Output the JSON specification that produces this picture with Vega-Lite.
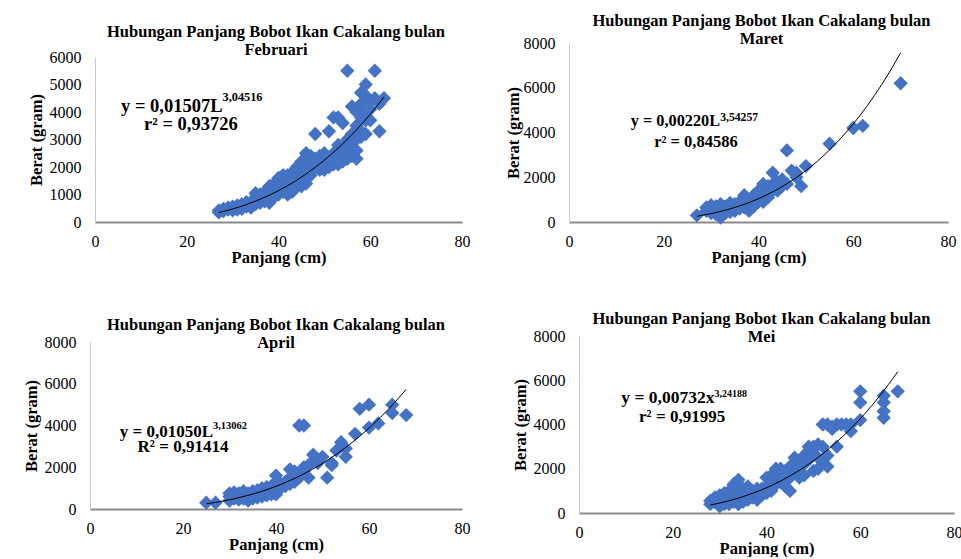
{
  "$schema": "https://vega.github.io/schema/vega-lite/v6.json",
  "background": "white",
  "padding": {"left": 23, "top": 12, "right": 0, "bottom": 0},
  "columns": 2,
  "spacing": {"column": 35, "row": 44},
  "config": {
    "font": "Liberation Serif",
    "view": {"stroke": null},
    "axis": {"grid": false, "ticks": false, "tickSize": 0, "labelFont": "Liberation Serif", "labelFontSize": 16, "labelColor": "#000000", "titleFont": "Liberation Serif", "titleFontSize": 16.5, "titleFontWeight": "bold", "titleColor": "#000000", "labelFlush": false, "format": "d"},
    "axisX": {"domainWidth": 2, "domainColor": "#8c8c8c", "labelPadding": 11, "titlePadding": 0},
    "axisY": {"domainWidth": 1, "domainColor": "#c8c8c8", "labelPadding": 14, "titlePadding": 5},
    "title": {"font": "Liberation Serif", "fontSize": 16.5, "fontWeight": "bold", "color": "#000000", "lineHeight": 18, "frame": "group", "anchor": "middle"},
    "point": {"shape": "diamond", "filled": true, "size": 205, "color": "#4472C4", "opacity": 1},
    "line": {"color": "#000000", "strokeWidth": 1},
    "text": {"font": "Liberation Serif", "fontWeight": "bold", "color": "#000000", "baseline": "alphabetic"}
  },
  "datasets": {
    "feb": [
      {"panjang":27,"berat":350},{"panjang":27,"berat":420},{"panjang":28,"berat":400},{"panjang":28,"berat":480},{"panjang":29,"berat":450},{"panjang":29,"berat":520},{"panjang":30,"berat":480},{"panjang":30,"berat":560},{"panjang":30,"berat":420},{"panjang":31,"berat":500},{"panjang":31,"berat":600},{"panjang":31,"berat":450},{"panjang":32,"berat":550},{"panjang":32,"berat":650},{"panjang":32,"berat":480},{"panjang":33,"berat":560},{"panjang":33,"berat":650},{"panjang":33,"berat":720},{"panjang":34,"berat":600},{"panjang":34,"berat":700},{"panjang":34,"berat":520},{"panjang":35,"berat":650},{"panjang":35,"berat":780},{"panjang":35,"berat":1050},{"panjang":35,"berat":900},{"panjang":36,"berat":700},{"panjang":36,"berat":850},{"panjang":36,"berat":1000},{"panjang":37,"berat":750},{"panjang":37,"berat":900},{"panjang":37,"berat":1000},{"panjang":37,"berat":1100},{"panjang":38,"berat":800},{"panjang":38,"berat":950},{"panjang":38,"berat":1300},{"panjang":38,"berat":700},{"panjang":39,"berat":900},{"panjang":39,"berat":1100},{"panjang":39,"berat":1250},{"panjang":39,"berat":1400},{"panjang":40,"berat":1000},{"panjang":40,"berat":1200},{"panjang":40,"berat":1600},{"panjang":40,"berat":1350},{"panjang":41,"berat":1100},{"panjang":41,"berat":1300},{"panjang":41,"berat":1500},{"panjang":41,"berat":1700},{"panjang":42,"berat":1000},{"panjang":42,"berat":1200},{"panjang":42,"berat":1400},{"panjang":42,"berat":1700},{"panjang":43,"berat":1100},{"panjang":43,"berat":1300},{"panjang":43,"berat":1500},{"panjang":43,"berat":1800},{"panjang":44,"berat":1300},{"panjang":44,"berat":1500},{"panjang":44,"berat":1700},{"panjang":44,"berat":2000},{"panjang":45,"berat":1300},{"panjang":45,"berat":1600},{"panjang":45,"berat":1900},{"panjang":45,"berat":2200},{"panjang":46,"berat":1800},{"panjang":46,"berat":2100},{"panjang":46,"berat":2500},{"panjang":46,"berat":1400},{"panjang":47,"berat":1700},{"panjang":47,"berat":1900},{"panjang":47,"berat":2200},{"panjang":47,"berat":2400},{"panjang":48,"berat":2000},{"panjang":48,"berat":2300},{"panjang":48,"berat":3200},{"panjang":49,"berat":1900},{"panjang":49,"berat":2100},{"panjang":49,"berat":2400},{"panjang":50,"berat":1900},{"panjang":50,"berat":2200},{"panjang":50,"berat":2500},{"panjang":51,"berat":2000},{"panjang":51,"berat":2300},{"panjang":51,"berat":3300},{"panjang":52,"berat":2500},{"panjang":52,"berat":3800},{"panjang":52,"berat":2100},{"panjang":53,"berat":2100},{"panjang":53,"berat":2400},{"panjang":53,"berat":3800},{"panjang":53,"berat":2800},{"panjang":54,"berat":3600},{"panjang":54,"berat":2700},{"panjang":54,"berat":2500},{"panjang":54,"berat":2200},{"panjang":55,"berat":2300},{"panjang":55,"berat":2500},{"panjang":55,"berat":3000},{"panjang":55,"berat":5500},{"panjang":56,"berat":2700},{"panjang":56,"berat":2900},{"panjang":56,"berat":3200},{"panjang":56,"berat":4200},{"panjang":56,"berat":2400},{"panjang":57,"berat":2300},{"panjang":57,"berat":2600},{"panjang":57,"berat":3000},{"panjang":57,"berat":3500},{"panjang":57,"berat":4000},{"panjang":58,"berat":3100},{"panjang":58,"berat":3300},{"panjang":58,"berat":3800},{"panjang":58,"berat":4300},{"panjang":58,"berat":4700},{"panjang":59,"berat":3200},{"panjang":59,"berat":3700},{"panjang":59,"berat":4000},{"panjang":59,"berat":4600},{"panjang":59,"berat":5000},{"panjang":60,"berat":3700},{"panjang":60,"berat":4100},{"panjang":60,"berat":4400},{"panjang":61,"berat":4500},{"panjang":61,"berat":5500},{"panjang":62,"berat":3300},{"panjang":62,"berat":4300},{"panjang":63,"berat":4500}
    ],
    "feb_fit": [
      {"panjang":27,"berat":344},{"panjang":30,"berat":474},{"panjang":33,"berat":634},{"panjang":36,"berat":827},{"panjang":39,"berat":1055},{"panjang":42,"berat":1322},{"panjang":45,"berat":1631},{"panjang":48,"berat":1986},{"panjang":51,"berat":2389},{"panjang":54,"berat":2843},{"panjang":57,"berat":3352},{"panjang":60,"berat":3919},{"panjang":63,"berat":4547}
    ],
    "feb_lbl": [
      {"panjang":27.8,"berat":4000,"teks":"y = 0,01507L","jenis":"main"},
      {"panjang":27.8,"berat":4400,"teks":"3,04516","jenis":"sup"},
      {"panjang":20.9,"berat":3345,"teks":"r² = 0,93726","jenis":"r2"}
    ],
    "mar": [
      {"panjang":27,"berat":300},{"panjang":29,"berat":500},{"panjang":29,"berat":650},{"panjang":30,"berat":400},{"panjang":30,"berat":600},{"panjang":30,"berat":750},{"panjang":31,"berat":350},{"panjang":31,"berat":500},{"panjang":31,"berat":700},{"panjang":32,"berat":200},{"panjang":32,"berat":450},{"panjang":32,"berat":600},{"panjang":32,"berat":800},{"panjang":33,"berat":400},{"panjang":33,"berat":550},{"panjang":33,"berat":700},{"panjang":34,"berat":450},{"panjang":34,"berat":600},{"panjang":34,"berat":850},{"panjang":35,"berat":500},{"panjang":35,"berat":650},{"panjang":35,"berat":800},{"panjang":36,"berat":600},{"panjang":36,"berat":750},{"panjang":36,"berat":900},{"panjang":37,"berat":650},{"panjang":37,"berat":850},{"panjang":37,"berat":1200},{"panjang":38,"berat":500},{"panjang":38,"berat":800},{"panjang":38,"berat":1000},{"panjang":39,"berat":700},{"panjang":39,"berat":900},{"panjang":39,"berat":1200},{"panjang":40,"berat":900},{"panjang":40,"berat":1100},{"panjang":40,"berat":1400},{"panjang":41,"berat":900},{"panjang":41,"berat":1200},{"panjang":41,"berat":1500},{"panjang":41,"berat":1700},{"panjang":42,"berat":1100},{"panjang":42,"berat":1300},{"panjang":42,"berat":1600},{"panjang":43,"berat":1400},{"panjang":43,"berat":1700},{"panjang":43,"berat":2200},{"panjang":44,"berat":1500},{"panjang":44,"berat":1800},{"panjang":44,"berat":1400},{"panjang":45,"berat":1600},{"panjang":45,"berat":1900},{"panjang":46,"berat":3200},{"panjang":46,"berat":1700},{"panjang":47,"berat":2300},{"panjang":48,"berat":2200},{"panjang":48,"berat":2000},{"panjang":49,"berat":1600},{"panjang":50,"berat":2500},{"panjang":55,"berat":3500},{"panjang":60,"berat":4200},{"panjang":62,"berat":4300},{"panjang":70,"berat":6200}
    ],
    "mar_fit": [
      {"panjang":27,"berat":259},{"panjang":30,"berat":376},{"panjang":33,"berat":527},{"panjang":36,"berat":717},{"panjang":39,"berat":952},{"panjang":42,"berat":1239},{"panjang":45,"berat":1581},{"panjang":48,"berat":1988},{"panjang":51,"berat":2465},{"panjang":54,"berat":3017},{"panjang":57,"berat":3656},{"panjang":60,"berat":4383},{"panjang":63,"berat":5209},{"panjang":66,"berat":6141},{"panjang":68,"berat":6824},{"panjang":70,"berat":7565}
    ],
    "mar_lbl": [
      {"panjang":31.9,"berat":4290,"teks":"y = 0,00220L","jenis":"main"},
      {"panjang":31.9,"berat":4514,"teks":"3,54257","jenis":"sup"},
      {"panjang":26.8,"berat":3352,"teks":"r² = 0,84586","jenis":"r2"}
    ],
    "apr": [
      {"panjang":25,"berat":300},{"panjang":27,"berat":300},{"panjang":30,"berat":400},{"panjang":30,"berat":600},{"panjang":30,"berat":750},{"panjang":31,"berat":500},{"panjang":31,"berat":650},{"panjang":31,"berat":800},{"panjang":32,"berat":450},{"panjang":32,"berat":600},{"panjang":32,"berat":750},{"panjang":33,"berat":500},{"panjang":33,"berat":650},{"panjang":33,"berat":850},{"panjang":34,"berat":400},{"panjang":34,"berat":600},{"panjang":34,"berat":750},{"panjang":35,"berat":500},{"panjang":35,"berat":700},{"panjang":35,"berat":850},{"panjang":36,"berat":550},{"panjang":36,"berat":750},{"panjang":36,"berat":900},{"panjang":37,"berat":600},{"panjang":37,"berat":800},{"panjang":37,"berat":1000},{"panjang":38,"berat":650},{"panjang":38,"berat":850},{"panjang":38,"berat":1050},{"panjang":39,"berat":700},{"panjang":39,"berat":900},{"panjang":39,"berat":1100},{"panjang":40,"berat":700},{"panjang":40,"berat":1000},{"panjang":40,"berat":1300},{"panjang":40,"berat":1600},{"panjang":41,"berat":1000},{"panjang":41,"berat":1200},{"panjang":42,"berat":1100},{"panjang":42,"berat":1300},{"panjang":43,"berat":1200},{"panjang":43,"berat":1500},{"panjang":43,"berat":1900},{"panjang":44,"berat":1300},{"panjang":44,"berat":1700},{"panjang":44,"berat":1800},{"panjang":45,"berat":1500},{"panjang":45,"berat":4000},{"panjang":46,"berat":4000},{"panjang":46,"berat":1800},{"panjang":46,"berat":2000},{"panjang":47,"berat":1500},{"panjang":47,"berat":2100},{"panjang":48,"berat":2300},{"panjang":48,"berat":2600},{"panjang":49,"berat":2200},{"panjang":50,"berat":2500},{"panjang":51,"berat":1500},{"panjang":52,"berat":2100},{"panjang":52,"berat":2200},{"panjang":53,"berat":2800},{"panjang":54,"berat":3000},{"panjang":54,"berat":3200},{"panjang":55,"berat":2500},{"panjang":55,"berat":2900},{"panjang":57,"berat":3600},{"panjang":58,"berat":4800},{"panjang":60,"berat":3900},{"panjang":60,"berat":5000},{"panjang":62,"berat":4100},{"panjang":65,"berat":4600},{"panjang":65,"berat":5000},{"panjang":68,"berat":4500}
    ],
    "apr_fit": [
      {"panjang":25,"berat":250},{"panjang":28,"berat":356},{"panjang":31,"berat":490},{"panjang":34,"berat":654},{"panjang":37,"berat":852},{"panjang":40,"berat":1087},{"panjang":43,"berat":1364},{"panjang":46,"berat":1685},{"panjang":49,"berat":2053},{"panjang":52,"berat":2474},{"panjang":55,"berat":2948},{"panjang":58,"berat":3482},{"panjang":61,"berat":4080},{"panjang":64,"berat":4740},{"panjang":68,"berat":5731}
    ],
    "apr_lbl": [
      {"panjang":26.45,"berat":3464,"teks":"y = 0,01050L","jenis":"main"},
      {"panjang":26.45,"berat":3832,"teks":"3,13062","jenis":"sup"},
      {"panjang":20,"berat":2745,"teks":"R² = 0,91414","jenis":"r2"}
    ],
    "mei": [
      {"panjang":28,"berat":400},{"panjang":28,"berat":550},{"panjang":29,"berat":500},{"panjang":29,"berat":700},{"panjang":30,"berat":300},{"panjang":30,"berat":500},{"panjang":30,"berat":800},{"panjang":31,"berat":400},{"panjang":31,"berat":600},{"panjang":31,"berat":900},{"panjang":32,"berat":400},{"panjang":32,"berat":700},{"panjang":32,"berat":1000},{"panjang":33,"berat":500},{"panjang":33,"berat":800},{"panjang":33,"berat":1300},{"panjang":34,"berat":400},{"panjang":34,"berat":700},{"panjang":34,"berat":1000},{"panjang":34,"berat":1500},{"panjang":35,"berat":500},{"panjang":35,"berat":800},{"panjang":35,"berat":1100},{"panjang":36,"berat":600},{"panjang":36,"berat":900},{"panjang":36,"berat":1200},{"panjang":37,"berat":700},{"panjang":37,"berat":1000},{"panjang":38,"berat":600},{"panjang":38,"berat":900},{"panjang":38,"berat":1100},{"panjang":39,"berat":800},{"panjang":39,"berat":1100},{"panjang":40,"berat":900},{"panjang":40,"berat":1200},{"panjang":40,"berat":1600},{"panjang":41,"berat":1000},{"panjang":41,"berat":1400},{"panjang":41,"berat":1700},{"panjang":42,"berat":1300},{"panjang":42,"berat":1700},{"panjang":42,"berat":2000},{"panjang":43,"berat":1400},{"panjang":43,"berat":1800},{"panjang":43,"berat":2000},{"panjang":44,"berat":1200},{"panjang":44,"berat":1500},{"panjang":44,"berat":1900},{"panjang":45,"berat":1000},{"panjang":45,"berat":1600},{"panjang":45,"berat":2100},{"panjang":46,"berat":1800},{"panjang":46,"berat":2200},{"panjang":46,"berat":2500},{"panjang":47,"berat":1600},{"panjang":47,"berat":1900},{"panjang":47,"berat":2300},{"panjang":48,"berat":1700},{"panjang":48,"berat":2200},{"panjang":48,"berat":2600},{"panjang":49,"berat":2400},{"panjang":49,"berat":2800},{"panjang":49,"berat":3000},{"panjang":50,"berat":1900},{"panjang":50,"berat":2700},{"panjang":50,"berat":3000},{"panjang":51,"berat":2000},{"panjang":51,"berat":2500},{"panjang":51,"berat":3100},{"panjang":52,"berat":2400},{"panjang":52,"berat":3000},{"panjang":52,"berat":4000},{"panjang":53,"berat":2100},{"panjang":53,"berat":2600},{"panjang":53,"berat":4000},{"panjang":54,"berat":3800},{"panjang":54,"berat":3900},{"panjang":55,"berat":3000},{"panjang":55,"berat":4000},{"panjang":56,"berat":4000},{"panjang":57,"berat":4000},{"panjang":58,"berat":3700},{"panjang":58,"berat":4000},{"panjang":60,"berat":4200},{"panjang":60,"berat":5000},{"panjang":60,"berat":5500},{"panjang":65,"berat":4300},{"panjang":65,"berat":4600},{"panjang":65,"berat":5000},{"panjang":65,"berat":5300},{"panjang":68,"berat":5500}
    ],
    "mei_fit": [
      {"panjang":28,"berat":360},{"panjang":31,"berat":500},{"panjang":34,"berat":675},{"panjang":37,"berat":888},{"panjang":40,"berat":1143},{"panjang":43,"berat":1445},{"panjang":46,"berat":1799},{"panjang":49,"berat":2208},{"panjang":52,"berat":2677},{"panjang":55,"berat":3212},{"panjang":58,"berat":3817},{"panjang":61,"berat":4495},{"panjang":64,"berat":5249},{"panjang":68,"berat":6387}
    ],
    "mei_lbl": [
      {"panjang":28.9,"berat":4958,"teks":"y = 0,00732x","jenis":"main"},
      {"panjang":28.9,"berat":5230,"teks":"3,24188","jenis":"sup"},
      {"panjang":22,"berat":4127,"teks":"r² = 0,91995","jenis":"r2"}
    ]
  },
  "concat": [
    {
      "width": 372, "height": 179,
      "title": {"text": ["Hubungan Panjang Bobot Ikan Cakalang bulan", "Februari"], "offset": -15},
      "encoding": {
        "x": {"field": "panjang", "type": "quantitative", "scale": {"domain": [0, 80], "range": [5, 372], "nice": false}, "axis": {"values": [0, 20, 40, 60, 80], "title": "Panjang (cm)"}},
        "y": {"field": "berat", "type": "quantitative", "scale": {"domain": [0, 6000], "range": [179, 14], "nice": false}, "axis": {"values": [0, 1000, 2000, 3000, 4000, 5000, 6000], "title": "Berat (gram)", "offset": -5}}
      },
      "layer": [
        {"data": {"name": "feb"}, "mark": {"type": "point"}},
        {"data": {"name": "feb_fit"}, "mark": {"type": "line", "interpolate": "monotone"}},
        {"data": {"name": "feb_lbl"}, "transform": [{"filter": "datum.jenis == 'main'"}], "mark": {"type": "text", "align": "right", "fontSize": 18.5}, "encoding": {"text": {"field": "teks"}}},
        {"data": {"name": "feb_lbl"}, "transform": [{"filter": "datum.jenis == 'sup'"}], "mark": {"type": "text", "align": "left", "fontSize": 12.3}, "encoding": {"text": {"field": "teks"}}},
        {"data": {"name": "feb_lbl"}, "transform": [{"filter": "datum.jenis == 'r2'"}], "mark": {"type": "text", "align": "center", "fontSize": 18.5}, "encoding": {"text": {"field": "teks"}}}
      ]
    },
    {
      "width": 385, "height": 179,
      "title": {"text": ["Hubungan Panjang Bobot Ikan Cakalang bulan", "Maret"], "offset": -12},
      "encoding": {
        "x": {"field": "panjang", "type": "quantitative", "scale": {"domain": [0, 80], "range": [0, 379], "nice": false}, "axis": {"values": [0, 20, 40, 60, 80], "title": "Panjang (cm)"}},
        "y": {"field": "berat", "type": "quantitative", "scale": {"domain": [0, 8000], "range": [179, 0], "nice": false}, "axis": {"values": [0, 2000, 4000, 6000, 8000], "title": "Berat (gram)", "titlePadding": 2}}
      },
      "layer": [
        {"data": {"name": "mar"}, "mark": {"type": "point"}},
        {"data": {"name": "mar_fit"}, "mark": {"type": "line", "interpolate": "monotone"}},
        {"data": {"name": "mar_lbl"}, "transform": [{"filter": "datum.jenis == 'main'"}], "mark": {"type": "text", "align": "right", "fontSize": 16.3}, "encoding": {"text": {"field": "teks"}}},
        {"data": {"name": "mar_lbl"}, "transform": [{"filter": "datum.jenis == 'sup'"}], "mark": {"type": "text", "align": "left", "fontSize": 11.7}, "encoding": {"text": {"field": "teks"}}},
        {"data": {"name": "mar_lbl"}, "transform": [{"filter": "datum.jenis == 'r2'"}], "mark": {"type": "text", "align": "center", "fontSize": 16.5}, "encoding": {"text": {"field": "teks"}}}
      ]
    },
    {
      "width": 372, "height": 177,
      "title": {"text": ["Hubungan Panjang Bobot Ikan Cakalang bulan", "April"], "offset": -17},
      "encoding": {
        "x": {"field": "panjang", "type": "quantitative", "scale": {"domain": [0, 80], "range": [0, 372], "nice": false}, "axis": {"values": [0, 20, 40, 60, 80], "title": "Panjang (cm)", "offset": -4}},
        "y": {"field": "berat", "type": "quantitative", "scale": {"domain": [0, 8000], "range": [173, 6], "nice": false}, "axis": {"values": [0, 2000, 4000, 6000, 8000], "title": "Berat (gram)"}}
      },
      "layer": [
        {"data": {"name": "apr"}, "mark": {"type": "point"}},
        {"data": {"name": "apr_fit"}, "mark": {"type": "line", "interpolate": "monotone"}},
        {"data": {"name": "apr_lbl"}, "transform": [{"filter": "datum.jenis == 'main'"}], "mark": {"type": "text", "align": "right", "fontSize": 17}, "encoding": {"text": {"field": "teks"}}},
        {"data": {"name": "apr_lbl"}, "transform": [{"filter": "datum.jenis == 'sup'"}], "mark": {"type": "text", "align": "left", "fontSize": 10.5}, "encoding": {"text": {"field": "teks"}}},
        {"data": {"name": "apr_lbl"}, "transform": [{"filter": "datum.jenis == 'r2'"}], "mark": {"type": "text", "align": "center", "fontSize": 17}, "encoding": {"text": {"field": "teks"}}}
      ]
    },
    {
      "width": 385, "height": 177,
      "title": {"text": ["Hubungan Panjang Bobot Ikan Cakalang bulan", "Mei"], "offset": -17},
      "encoding": {
        "x": {"field": "panjang", "type": "quantitative", "scale": {"domain": [0, 80], "range": [10, 385], "nice": false}, "axis": {"values": [0, 20, 40, 60, 80], "title": "Panjang (cm)"}},
        "y": {"field": "berat", "type": "quantitative", "scale": {"domain": [0, 8000], "range": [177, 0], "nice": false}, "axis": {"values": [0, 2000, 4000, 6000, 8000], "title": "Berat (gram)", "offset": -10}}
      },
      "layer": [
        {"data": {"name": "mei"}, "mark": {"type": "point"}},
        {"data": {"name": "mei_fit"}, "mark": {"type": "line", "interpolate": "monotone"}},
        {"data": {"name": "mei_lbl"}, "transform": [{"filter": "datum.jenis == 'main'"}], "mark": {"type": "text", "align": "right", "fontSize": 17.5}, "encoding": {"text": {"field": "teks"}}},
        {"data": {"name": "mei_lbl"}, "transform": [{"filter": "datum.jenis == 'sup'"}], "mark": {"type": "text", "align": "left", "fontSize": 10}, "encoding": {"text": {"field": "teks"}}},
        {"data": {"name": "mei_lbl"}, "transform": [{"filter": "datum.jenis == 'r2'"}], "mark": {"type": "text", "align": "center", "fontSize": 17}, "encoding": {"text": {"field": "teks"}}}
      ]
    }
  ]
}
